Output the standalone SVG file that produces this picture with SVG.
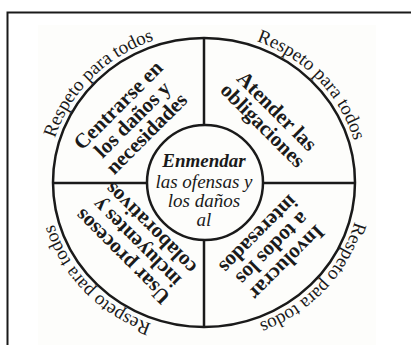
<svg xmlns="http://www.w3.org/2000/svg" width="411" height="345" viewBox="0 0 411 345">
<style>
.ln{stroke:#1a1a1a;stroke-width:2.5;fill:none}
.rim{font-family:"Liberation Serif",serif;font-size:19px;fill:#1a1a1a}
.q{font-family:"Liberation Serif",serif;font-size:21px;font-weight:bold;fill:#1a1a1a;text-anchor:middle}
.c{font-family:"Liberation Serif",serif;font-style:italic;font-size:19px;fill:#1a1a1a;text-anchor:middle}
</style>
<defs>
<path id="a1" d="M48.4,172 A156,150 0 0 1 187.7,33.3"/>
<path id="a2" d="M223,33.6 A156,150 0 0 1 359.8,174.7"/>
<path id="a3" d="M359.9,187.7 A156,150 0 0 1 225.7,331"/>
<path id="a4" d="M185,331.4 A156,150 0 0 1 48.2,190.3"/>
</defs>
<rect width="411" height="345" fill="#ffffff"/>
<rect x="38" y="25" width="338" height="320" fill="#fdfdfb"/>
<g id="frame">
<path d="M7.5,345 V12.5 H411" stroke="#1a1a1a" stroke-width="2" fill="none"/>
</g>
<g id="connectors">
<line class="ln" x1="204" y1="38" x2="204" y2="125"/>
<line class="ln" x1="204" y1="240" x2="204" y2="327"/>
<line class="ln" x1="53" y1="183" x2="147" y2="183"/>
<line class="ln" x1="263" y1="183" x2="355" y2="183"/>
</g>
<g id="outer">
<ellipse class="ln" cx="204" cy="182.5" rx="151" ry="144.5" stroke-width="2"/>
</g>
<g id="rim-text">
<text class="rim"><textPath href="#a1" startOffset="50%" text-anchor="middle">Respeto para todos</textPath></text>
<text class="rim"><textPath href="#a2" startOffset="50%" text-anchor="middle">Respeto para todos</textPath></text>
<text class="rim"><textPath href="#a3" startOffset="50%" text-anchor="middle">Respeto para todos</textPath></text>
<text class="rim"><textPath href="#a4" startOffset="50%" text-anchor="middle">Respeto para todos</textPath></text>
</g>
<g id="q1" transform="translate(133,120) rotate(-45)">
<text class="q" x="0" y="-14">Centrarse en</text>
<text class="q" x="0" y="6">los daños y</text>
<text class="q" x="0" y="26">necesidades</text>
</g>
<g id="q2" transform="translate(270,118) rotate(45)">
<text class="q" x="0" y="-3">Atender las</text>
<text class="q" x="0" y="17">obligaciones</text>
</g>
<g id="q3" transform="translate(137,242) rotate(-135)">
<text class="q" x="0" y="-14">Usar procesos</text>
<text class="q" x="0" y="6">incluyentes y</text>
<text class="q" x="0" y="26">colaborativos</text>
</g>
<g id="q4" transform="translate(272,248) rotate(135)">
<text class="q" x="0" y="-14">Involucrar</text>
<text class="q" x="0" y="6">a todos los</text>
<text class="q" x="0" y="26">interesados</text>
</g>
<g id="center">
<ellipse class="ln" cx="205" cy="182.5" rx="58" ry="57.5" stroke-width="2"/>
<text class="c" x="204" y="167" font-weight="bold" font-size="22">Enmendar</text>
<text class="c" x="204" y="188">las ofensas y</text>
<text class="c" x="204" y="207">los daños</text>
<text class="c" x="204" y="226">al</text>
</g>
</svg>
